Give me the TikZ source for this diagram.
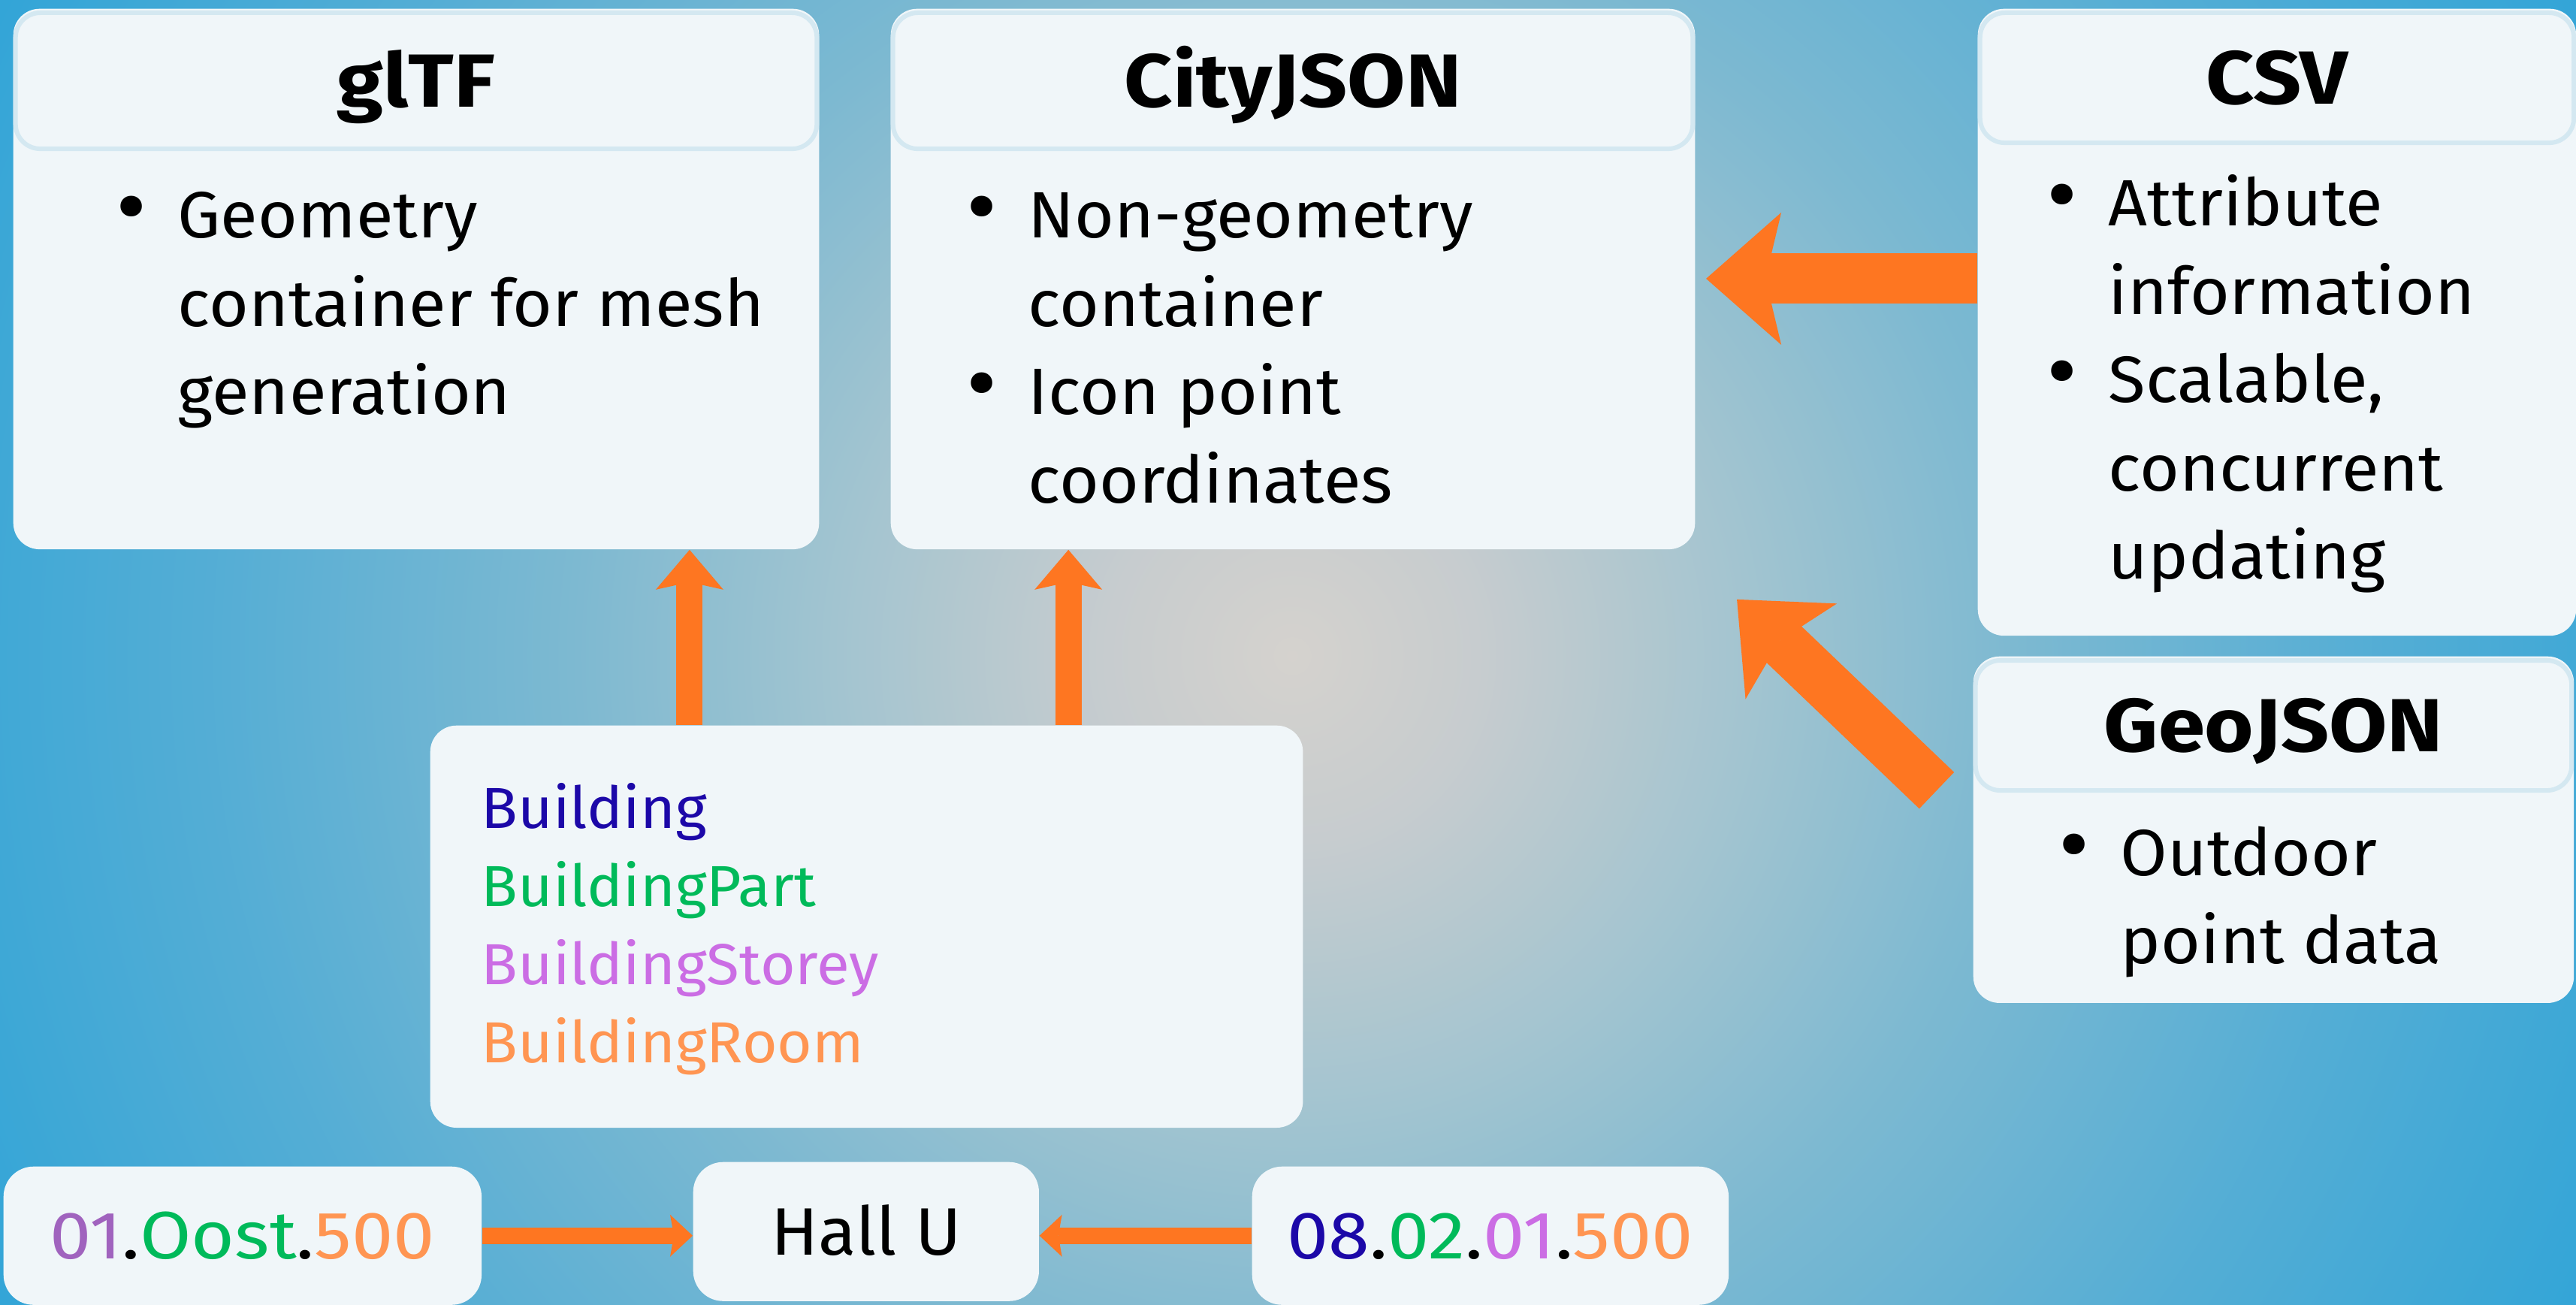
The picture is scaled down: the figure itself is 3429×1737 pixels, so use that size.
\documentclass[tikz,border=0pt]{standalone}
\usepackage{graphicx}
\usepackage{fontspec}
\setmainfont{Fira Sans}[FakeStretch=1.04]
\newfontfamily\titlefont{Fira Sans}[FakeStretch=1.12]
\newfontfamily\codefont{Fira Sans}[FakeStretch=1.11]
\usetikzlibrary{arrows.meta,positioning}

\definecolor{arroworange}{HTML}{FE7621}
\definecolor{boxfill}{HTML}{F0F6F9}
\definecolor{headline}{HTML}{D4E8F1}
\definecolor{bldgblue}{HTML}{1C08A8}
\definecolor{partgreen}{HTML}{00BA5A}
\definecolor{storeypurple}{HTML}{CB6DE4}
\definecolor{roomorange}{HTML}{FF9552}
\definecolor{codepurple}{HTML}{A063BE}

\pgfdeclareradialshading{bgglow}{\pgfpoint{0bp}{0bp}}{rgb(0bp)=(0.835,0.824,0.808); rgb(3.1bp)=(0.78,0.8,0.81); rgb(7.5bp)=(0.64,0.77,0.815); rgb(12bp)=(0.49,0.725,0.82); rgb(18bp)=(0.33,0.68,0.835); rgb(24bp)=(0.2,0.647,0.843); rgb(50bp)=(0.2,0.647,0.843)}

\newcommand{\bul}{\llap{\makebox[1.24cm]{\scalebox{1.4}{\textbullet}}}}

\begin{document}
\begin{tikzpicture}[x=0.01cm,y=-0.01cm,
                    bigarrow/.style={draw=arroworange,line width=0.67cm,-{Stealth[length=1cm,width=1.76cm,inset=0.21cm,line width=0pt]}}]
	\tikzstyle{box}=[fill=boxfill,rounded corners=0.35cm,inner sep=0pt,anchor=north west]
	\tikzstyle{head}=[draw=headline,line width=0.06cm,fill=boxfill,rounded corners=0.33cm,inner sep=0pt,anchor=north,
	                  text height=0.69cm,text depth=0pt,font=\titlefont\fontsize{28.5}{34}\selectfont\bfseries]
	\tikzstyle{list}=[inner sep=0pt,anchor=base west,font=\fontsize{24.8}{33.4}\selectfont]
	\tikzstyle{tag}=[fill=boxfill,rounded corners=0.4cm,inner sep=0pt,anchor=north west,
	                 text height=0.62cm,text depth=0pt,font=\fontsize{25.4}{30}\selectfont]
	\tikzstyle{uparrow}=[draw=arroworange,line width=0.35cm,-{Stealth[length=0.53cm,width=0.9cm,inset=0.1cm,line width=0pt]}]
	\tikzstyle{flatarrow}=[draw=arroworange,line width=0.22cm,-{Stealth[length=0.3cm,width=0.56cm,inset=0.05cm,line width=0pt]}]

	\useasboundingbox (0,0) rectangle (3429,1737);
	\begin{scope}
		\clip (0,0) rectangle (3429,1737);
		\shade[shading=bgglow] (1720,873) circle (20cm);
	\end{scope}

	% format boxes
	\node[box,minimum width=10.72cm,minimum height=7.19cm]	(gltf)	at (17,11)	{};
	\node[box,minimum width=10.70cm,minimum height=7.19cm]	(city)	at (1185,11)	{};
	\node[box,minimum width=7.96cm,minimum height=8.34cm]	(csv)	at (2632,11)	{};
	\node[box,minimum width=7.99cm,minimum height=4.61cm]	(geo)	at (2626,873)	{};
	\node[box,minimum width=11.61cm,minimum height=5.35cm]	(bldg)	at (572,965)	{};

	\node[head,minimum width=10.66cm,minimum height=1.81cm]	(gltfhead)	at ([yshift=-0.03cm]gltf.north)	{glTF};
	\node[head,minimum width=10.64cm,minimum height=1.81cm]	(cityhead)	at ([yshift=-0.03cm]city.north)	{CityJSON};
	\node[head,minimum width=7.90cm,minimum height=1.73cm]	(csvhead)	at ([yshift=-0.03cm]csv.north)	{CSV};
	\node[head,minimum width=7.93cm,minimum height=1.73cm]	(geohead)	at ([yshift=-0.03cm]geo.north)	{GeoJSON};

	\node[list]	(gltftxt)	at (236,317)	{\begin{tabular}[t]{@{}l@{}}\bul Geometry\\container for mesh\\generation\end{tabular}};
	\node[list]	(citytxt)	at (1368,317)	{\begin{tabular}[t]{@{}l@{}}\bul Non-geometry\\container\\\bul Icon point\\coordinates\end{tabular}};
	\node[list]	(csvtxt)	at (2806,301)	{\begin{tabular}[t]{@{}l@{}}\bul Attribute\\information\\\bul Scalable,\\concurrent\\updating\end{tabular}};
	\node[list]	(geotxt)	at (2822,1165)	{\begin{tabular}[t]{@{}l@{}}\bul Outdoor\\point data\end{tabular}};
	\node[list,font=\fontsize{21.9}{29.5}\selectfont]	(bldgtxt)	at (640,1103)
		{\begin{tabular}[t]{@{}l@{}}\textcolor{bldgblue}{Building}\\\textcolor{partgreen}{BuildingPart}\\
		 \textcolor{storeypurple}{BuildingStorey}\\\textcolor{roomorange}{BuildingRoom}\end{tabular}};

	% room codes
	\node[tag,minimum width=6.36cm,minimum height=1.84cm,font=\codefont\fontsize{25.4}{30}\selectfont]	(oost)	at (4,1552)
		{\textcolor{codepurple}{01}.\textcolor{partgreen}{Oost}.\textcolor{roomorange}{500}};
	\node[tag,minimum width=4.60cm,minimum height=1.85cm]	(hall)	at (922,1546)	{Hall U};
	\node[tag,minimum width=6.34cm,minimum height=1.84cm,font=\codefont\fontsize{25.4}{30}\selectfont]	(code)	at (1666,1552)
		{\textcolor{bldgblue}{08}.\textcolor{partgreen}{02}.\textcolor{storeypurple}{01}.\textcolor{roomorange}{500}};

	\coordinate (g1) at ([xshift=-0.48cm,yshift=-1.79cm]geo.north west);
	\coordinate (g2) at ([xshift=0.55cm,yshift=-0.66cm]city.south east);

	\draw[uparrow]	([xshift=-2.355cm]bldg.north) coordinate (b1) -- (b1 |- gltf.south);
	\draw[uparrow]	([xshift=2.685cm]bldg.north) coordinate (b2) -- (b2 |- city.south);
	\draw[bigarrow,shorten >=0.14cm]	([yshift=0.58cm]csv.west) coordinate (c1) -- (c1 -| city.east);
	\draw[bigarrow]	(g1) -- (g2);
	\draw[flatarrow]	(oost.east) -- (oost.east -| hall.west);
	\draw[flatarrow]	(code.west) -- (code.west -| hall.east);
\end{tikzpicture}
\end{document}
